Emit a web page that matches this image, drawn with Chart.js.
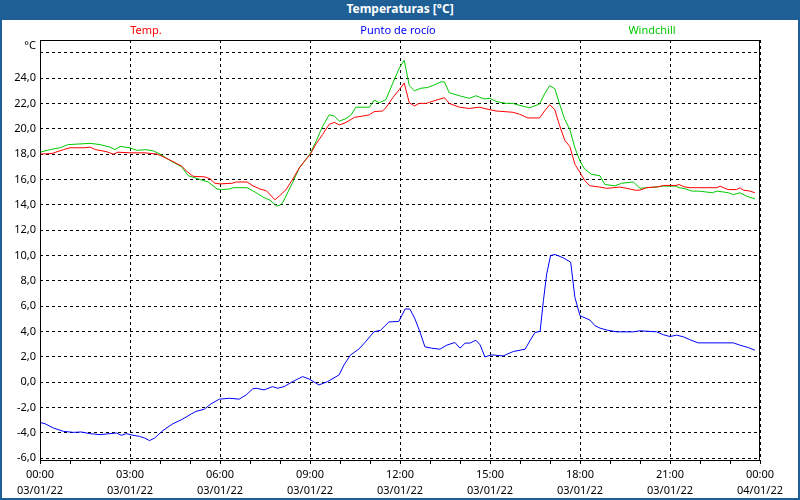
<!DOCTYPE html>
<html><head><meta charset="utf-8">
<script src="https://cdn.jsdelivr.net/npm/chart.js@4"></script>
<style>
html,body{margin:0;padding:0;background:#fff;}
#outer{position:relative;width:800px;height:500px;background:#1e5f96;overflow:hidden;}
#inner{position:absolute;left:2px;top:20px;width:796px;height:478px;background:#fff;}
#title{position:absolute;left:0;top:0;width:800px;height:20px;line-height:20px;text-align:center;color:#fff;font:bold 12px "Noto Sans",sans-serif;}
#box{position:absolute;left:0;top:0;width:800px;height:500px;}
</style></head><body>
<div id="outer"><div id="inner"></div><div id="title">Temperaturas [°C]</div><div id="box"><canvas id="c"></canvas></div></div>
<script>
const seriesNames = ['Temp.', 'Punto de rocío', 'Windchill'];

const tempTimes = [0,0.4,0.78,1.0,1.5,1.67,1.85,2.2,2.45,2.6,3.0,3.5,3.9,4.1,4.44,4.72,4.89,5.1,5.5,5.67,5.83,6.0,6.4,6.55,6.9,7.1,7.33,7.55,7.83,7.98,8.2,8.42,8.64,8.87,9.0,9.2,9.42,9.64,9.81,9.98,10.2,10.48,10.76,10.98,11.14,11.42,11.53,11.76,11.98,12.14,12.31,12.48,12.64,12.87,13.2,13.48,13.64,13.98,14.31,14.64,15.0,15.2,15.76,15.98,16.26,16.65,16.82,16.99,17.16,17.32,17.49,17.66,17.83,18.0,18.16,18.33,18.66,18.89,19.33,19.56,19.84,20.0,20.22,20.61,20.78,21.2,21.3,21.47,21.67,22.56,22.67,22.83,22.94,23.22,23.33,23.44,23.67,23.83];
const tempValues = [18.0,18.05,18.35,18.5,18.5,18.55,18.35,18.2,18.0,18.15,18.1,18.1,18.0,17.8,17.4,17.05,16.65,16.25,16.2,16.05,15.7,15.65,15.7,15.8,15.8,15.5,15.25,15.1,14.4,14.7,15.2,16.0,16.9,17.6,17.95,18.8,19.55,20.35,20.5,20.3,20.5,20.9,21.0,21.1,21.35,21.4,21.65,22.45,23.1,23.6,22.05,21.8,22.0,22.0,22.25,22.45,22.0,21.7,21.6,21.7,21.5,21.4,21.3,21.15,20.85,20.85,21.4,21.9,21.5,20.25,19.1,18.6,17.2,16.55,15.9,15.5,15.4,15.3,15.4,15.3,15.15,15.16,15.35,15.42,15.53,15.53,15.6,15.42,15.35,15.35,15.47,15.3,15.2,15.2,15.35,15.16,15.08,14.95];

const dewTimes = [0,0.17,0.44,0.78,1.11,1.38,1.66,2.0,2.33,2.55,2.71,2.88,3.1,3.32,3.49,3.65,3.82,4.1,4.43,4.76,5.04,5.2,5.48,5.7,5.98,6.31,6.64,6.87,7.09,7.2,7.47,7.75,7.92,8.14,8.36,8.53,8.75,8.97,9.3,9.58,9.97,10.13,10.35,10.63,10.85,11.13,11.35,11.63,11.96,12.17,12.33,12.5,12.67,12.83,13.05,13.33,13.56,13.83,14.0,14.17,14.33,14.53,14.67,14.83,15.05,15.44,15.78,16.17,16.33,16.5,16.67,16.78,16.89,17.02,17.17,17.44,17.69,17.83,18.0,18.33,18.5,18.67,18.89,19.22,19.78,20.0,20.56,20.78,21.0,21.22,21.44,21.67,21.94,23.11,23.33,23.61,23.83];
const dewValues = [-3.17,-3.27,-3.6,-3.87,-3.95,-3.92,-4.05,-4.13,-4.05,-4.0,-4.18,-4.05,-4.18,-4.27,-4.4,-4.6,-4.4,-3.8,-3.27,-2.9,-2.5,-2.3,-2.12,-1.7,-1.33,-1.26,-1.33,-1.0,-0.52,-0.47,-0.6,-0.34,-0.47,-0.34,-0.03,0.18,0.45,0.26,-0.21,0.05,0.58,1.36,2.15,2.62,3.19,3.98,4.1,4.76,4.8,5.78,5.78,4.99,3.93,2.8,2.69,2.61,2.93,3.14,2.69,3.09,3.09,3.32,2.95,2.0,2.16,2.08,2.43,2.61,3.27,3.93,4.01,6.44,8.55,10.0,10.08,9.82,9.47,6.7,5.25,4.91,4.46,4.27,4.12,3.98,3.98,4.06,3.98,3.75,3.61,3.72,3.59,3.35,3.11,3.11,2.93,2.74,2.53];

const windTimes = [0,0.33,0.67,0.94,1.33,1.67,2.0,2.33,2.5,2.67,3.0,3.22,3.55,3.78,4.0,4.33,4.72,4.94,5.33,5.61,5.9,6.05,6.33,6.44,6.9,7.17,7.44,7.67,7.89,8.0,8.1,8.2,8.42,8.64,8.87,9.0,9.2,9.42,9.64,9.81,9.98,10.2,10.37,10.53,10.98,11.14,11.31,11.53,11.76,11.98,12.14,12.31,12.48,12.7,12.92,13.09,13.37,13.48,13.64,13.98,14.31,14.53,14.64,14.8,15.0,15.2,15.54,15.76,15.98,16.32,16.65,16.82,16.99,17.16,17.32,17.49,17.66,17.83,18.0,18.16,18.39,18.66,18.83,19.17,19.39,19.78,20.0,20.22,20.61,20.78,21.2,21.3,21.52,21.63,21.74,21.97,22.41,22.57,22.95,23.11,23.33,23.55,23.83];
const windValues = [18.15,18.35,18.5,18.75,18.8,18.85,18.75,18.55,18.35,18.6,18.5,18.3,18.35,18.25,18.0,17.5,17.0,16.3,16.0,15.8,15.25,15.2,15.25,15.35,15.35,15.0,14.6,14.35,13.9,13.97,14.2,14.7,15.75,16.9,17.6,18.0,19.0,20.2,21.1,21.0,20.6,20.8,21.1,21.7,21.7,22.25,22.05,22.3,23.6,24.8,25.4,23.4,23.0,23.2,23.25,23.4,23.7,23.7,22.85,22.6,22.4,22.6,22.5,22.35,22.4,22.15,22.0,22.0,21.85,21.65,21.95,22.75,23.4,23.15,21.95,20.75,19.95,18.5,17.45,16.8,16.4,16.3,15.6,15.5,15.7,15.8,15.3,15.35,15.42,15.47,15.47,15.35,15.26,15.16,15.08,15.08,14.95,15.08,14.95,14.8,14.95,14.68,14.47];

const yTickValues = [-6,-4,-2,0,2,4,6,8,10,12,14,16,18,20,22,24,26];
const xTickHours = [0,3,6,9,12,15,18,21,24];
const xTickTimes = ['00:00','03:00','06:00','09:00','12:00','15:00','18:00','21:00','00:00'];
const xTickDates = ['03/01/22','03/01/22','03/01/22','03/01/22','03/01/22','03/01/22','03/01/22','03/01/22','04/01/22'];
const yUnit = '°C';

const colors = ['#ff0000', '#0000ff', '#00c800'];
const FONT = '"Noto Sans", sans-serif';
Chart.defaults.font.family = FONT;
Chart.defaults.color = '#000';

function pts(ts, vs){ return ts.map((t,i)=>({x:t, y:vs[i]})); }

const overlay = {
  id:'overlay',
  afterDraw(chart){
    const {ctx, chartArea:a} = chart;
    ctx.save();
    ctx.strokeStyle = '#000'; ctx.lineWidth = 1; ctx.setLineDash([]);
    ctx.strokeRect(Math.round(a.left)+0.5, Math.round(a.top)+0.5, Math.round(a.right-a.left)-1, Math.round(a.bottom-a.top));
    ctx.font = '11px ' + FONT;
    ctx.textBaseline = 'middle';
    ctx.textAlign = 'center';
    const lx = [146, 398, 652];
    seriesNames.forEach((n,i)=>{ ctx.fillStyle = colors[i]; ctx.fillText(n, lx[i], 31); });
    ctx.fillStyle = '#000'; ctx.textAlign = 'right';
    ctx.fillText(yUnit, 36, 46);
    ctx.restore();
  }
};

new Chart(document.getElementById('c'), {
  type:'line',
  data:{ datasets:[
    {label:seriesNames[0], data:pts(tempTimes,tempValues), borderColor:colors[0], borderWidth:1, pointRadius:0, tension:0, fill:false},
    {label:seriesNames[1], data:pts(dewTimes,dewValues), borderColor:colors[1], borderWidth:1, pointRadius:0, tension:0, fill:false},
    {label:seriesNames[2], data:pts(windTimes,windValues), borderColor:colors[2], borderWidth:1, pointRadius:0, tension:0, fill:false}
  ]},
  options:{
    responsive:true, maintainAspectRatio:false, animation:false, devicePixelRatio:1,
    layout:{padding:{left:0, top:40, right:40, bottom:0}},
    plugins:{legend:{display:false}, title:{display:false}, tooltip:{enabled:false}},
    scales:{
      x:{type:'linear', min:0, max:24,
        afterFit(s){ s.height = 40; },
        ticks:{stepSize:1, autoSkip:false, maxRotation:0, minRotation:0, padding:3, color:'#000', font:{size:11, lineHeight:1.45},
          callback(v){ const i = xTickHours.indexOf(v); return i<0 ? '' : [xTickTimes[i], xTickDates[i]]; }},
        grid:{color(ctx){ return (ctx.tick && ctx.tick.value % 3 === 0) ? '#000' : 'rgba(0,0,0,0)'; }, lineWidth:1, drawTicks:true, tickLength:4, tickColor:'#000'},
        border:{display:false, dash:[3,3]}
      },
      y:{min:-6.13, max:27.0,
        afterBuildTicks(s){ s.ticks = yTickValues.map(v=>({value:v})); },
        afterFit(s){ s.width = 40; },
        ticks:{padding:4, color:'#000', font:{size:11},
          callback(v){ return v === 26 ? '' : v.toFixed(1).replace('.', ','); }},
        grid:{color:'#000', lineWidth:1, drawTicks:false},
        border:{display:false, dash:[3,3]}
      }
    }
  },
  plugins:[overlay]
});
</script>
</body></html>
